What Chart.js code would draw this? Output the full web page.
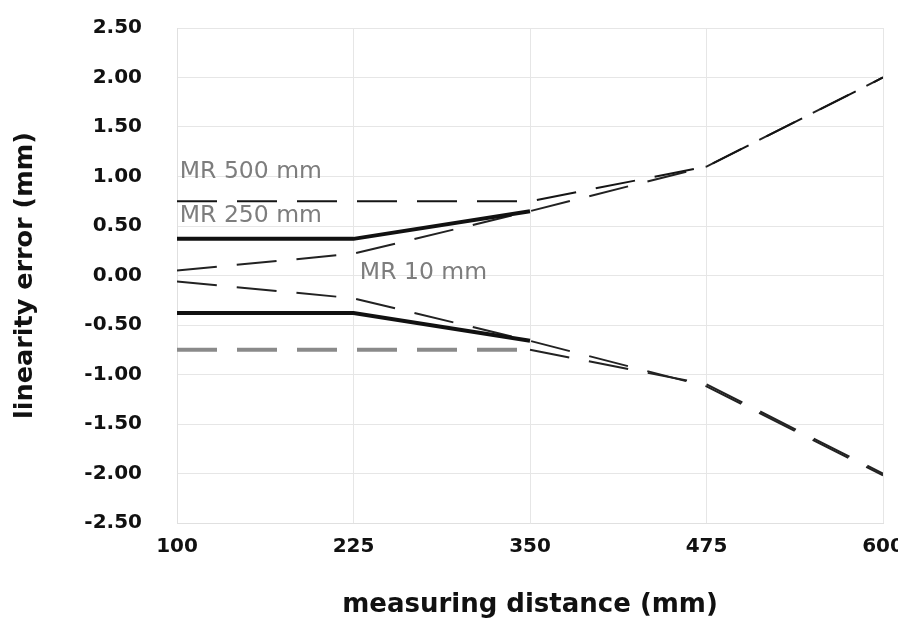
<!DOCTYPE html>
<html>
<head>
<meta charset="utf-8">
<script src="https://cdn.jsdelivr.net/npm/chart.js@4.4.1/dist/chart.umd.min.js"></script>
<style>
    html, body { margin: 0; padding: 0; background: #fff; }
    #wrap { width: 898px; height: 625px; }
</style>
</head>
<body>
<div id="wrap"><canvas id="errorChart"></canvas></div>
<script>
// measuring distance (mm)
var distances = [100, 225, 350, 475, 600];
var xTicks = [100, 225, 350, 475, 600];
var yTicks = [-2.5, -2, -1.5, -1, -0.5, 0, 0.5, 1, 1.5, 2, 2.5];

// linearity error (mm) per measuring range
var mr500Upper = [0.75, 0.75, 0.75, 1.10, 2.00];
var mr500Lower = [-0.75, -0.75, -0.75, -1.10, -2.00];
var mr250Upper = [0.37, 0.37, 0.65, null, null];
var mr250Lower = [-0.38, -0.38, -0.66, null, null];
var mr10Upper = [0.05, 0.22, 0.65, 1.10, 2.00];
var mr10Lower = [-0.06, -0.23, -0.66, -1.12, -2.02];

var rangeNames = ['MR 500 mm', 'MR 250 mm', 'MR 10 mm'];
var rangeNameX = [102, 102, 229.5];
var rangeNameY = [1.045, 0.6, 0.025];

function toPoints(values) {
    return distances.map(function (d, i) {
        return { x: d, y: values[i] };
    });
}

var rangeLabels = {
    id: 'rangeLabels',
    afterDatasetsDraw: function (chart) {
        var ctx = chart.ctx;
        var xs = chart.scales.x;
        var ys = chart.scales.y;
        ctx.save();
        ctx.font = '23.5px "DejaVu Sans"';
        ctx.fillStyle = '#7d7d7d';
        ctx.textAlign = 'left';
        ctx.textBaseline = 'middle';
        rangeNames.forEach(function (name, i) {
            ctx.fillText(name, xs.getPixelForValue(rangeNameX[i]), ys.getPixelForValue(rangeNameY[i]));
        });
        ctx.restore();
    }
};

document.addEventListener('DOMContentLoaded', function () {
    var ctx = document.getElementById('errorChart').getContext('2d');
    var dash = [40, 20];
    var errorChart = new Chart(ctx, {
        type: 'line',
        data: {
            datasets: [
                {
                    label: 'MR 250 mm +',
                    data: toPoints(mr250Upper),
                    borderColor: '#111',
                    borderWidth: 4,
                    spanGaps: false
                },
                {
                    label: 'MR 250 mm -',
                    data: toPoints(mr250Lower),
                    borderColor: '#111',
                    borderWidth: 4,
                    spanGaps: false
                },
                {
                    label: 'MR 500 mm +',
                    data: toPoints(mr500Upper),
                    borderColor: '#151515',
                    borderWidth: 2,
                    borderDash: dash
                },
                {
                    label: 'MR 500 mm -',
                    data: toPoints(mr500Lower),
                    borderColor: '#8a8a8a',
                    borderWidth: 4,
                    borderDash: dash,
                    segment: {
                        borderColor: function (c) { return c.p0DataIndex >= 2 ? '#222' : '#8a8a8a'; },
                        borderWidth: function (c) { return c.p0DataIndex >= 2 ? 2 : 4; }
                    }
                },
                {
                    label: 'MR 10 mm +',
                    data: toPoints(mr10Upper),
                    borderColor: '#222',
                    borderWidth: 2,
                    borderDash: dash
                },
                {
                    label: 'MR 10 mm -',
                    data: toPoints(mr10Lower),
                    borderColor: '#222',
                    borderWidth: 2,
                    borderDash: dash
                }
            ]
        },
        options: {
            responsive: true,
            maintainAspectRatio: false,
            animation: false,
            layout: { padding: { top: 28, right: 15, bottom: 0, left: 0 } },
            elements: {
                point: { radius: 0, hoverRadius: 0 },
                line: { tension: 0, fill: false }
            },
            plugins: {
                legend: { display: false },
                tooltip: { enabled: false }
            },
            scales: {
                x: {
                    type: 'linear',
                    min: 100,
                    max: 600,
                    afterBuildTicks: function (s) {
                        s.ticks = xTicks.map(function (v) { return { value: v }; });
                    },
                    afterFit: function (s) {
                        s.height = 102;
                        s.paddingRight = 15;
                        s.paddingLeft = 0;
                    },
                    grid: { color: '#e6e6e6', drawTicks: false },
                    border: { color: '#e0e0e0' },
                    ticks: {
                        padding: 12,
                        color: '#111',
                        font: { family: 'DejaVu Sans', weight: 'bold', size: 20 },
                        maxRotation: 0
                    },
                    title: {
                        display: true,
                        text: 'measuring distance (mm)',
                        color: '#111',
                        font: { family: 'DejaVu Sans', weight: 'bold', size: 26 },
                        padding: { top: 0, bottom: 4 }
                    }
                },
                y: {
                    min: -2.5,
                    max: 2.5,
                    afterBuildTicks: function (s) {
                        s.ticks = yTicks.map(function (v) { return { value: v }; });
                    },
                    afterFit: function (s) {
                        s.width = 177;
                        s.paddingTop = 0;
                        s.paddingBottom = 0;
                    },
                    grid: { color: '#e6e6e6', drawTicks: false },
                    border: { color: '#e0e0e0' },
                    ticks: {
                        padding: 35,
                        color: '#111',
                        font: { family: 'DejaVu Sans', weight: 'bold', size: 20 },
                        callback: function (v) { return v.toFixed(2); }
                    },
                    title: {
                        display: true,
                        text: 'linearity error (mm)',
                        color: '#111',
                        font: { family: 'DejaVu Sans', weight: 'bold', size: 25.5 },
                        padding: { top: 10, bottom: 0 }
                    }
                }
            }
        },
        plugins: [rangeLabels]
    });
});
</script>
</body>
</html>
